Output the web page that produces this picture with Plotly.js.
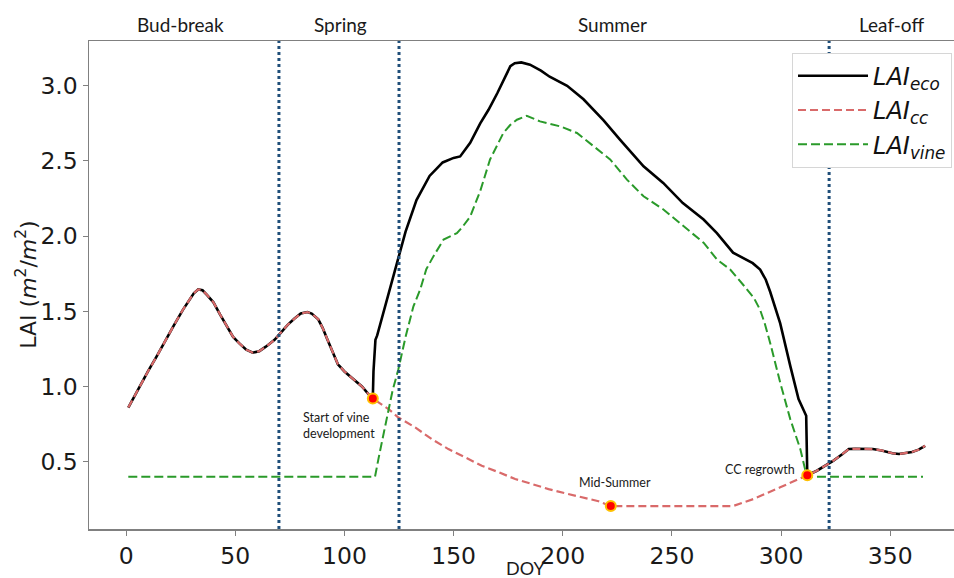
<!DOCTYPE html>
<html>
<head>
<meta charset="utf-8">
<script src="https://cdn.plot.ly/plotly-3.0.1.min.js"></script>
<style>
  html, body { margin: 0; padding: 0; background: #fff; }
  #chart { width: 954px; height: 578px; }
</style>
</head>
<body>
<div id="chart"></div>
<script>
// ---- Data ----
// Shared part of LAI_eco and LAI_cc before vine development
const earlyDoy = [1, 5, 10, 14, 18, 22, 26, 29, 31, 33, 35, 37, 40, 43, 46, 49, 52, 55, 58, 61, 64, 68, 71, 74, 77, 80, 83, 85, 88, 90, 92, 95, 97, 100, 104, 108, 111, 113];
const earlyLai = [0.86, 0.97, 1.10, 1.20, 1.31, 1.41, 1.51, 1.58, 1.62, 1.645, 1.64, 1.61, 1.56, 1.48, 1.40, 1.33, 1.285, 1.245, 1.225, 1.235, 1.265, 1.31, 1.36, 1.41, 1.45, 1.485, 1.495, 1.485, 1.447, 1.39, 1.32, 1.22, 1.148, 1.10, 1.05, 1.00, 0.95, 0.92];

// LAI_eco during vine season
const ecoMidDoy = [113.3, 114.2, 115, 119.5, 124.7, 128, 133, 139, 145, 150, 153, 157.6, 162.2, 166, 170, 176, 178, 181, 185, 190, 194, 202, 209.5, 218.7, 226.3, 237, 246, 255, 264.5, 270.6, 278, 283, 287, 290.4, 293, 295, 299.6, 304.2, 308, 311.5, 311.8];
const ecoMidLai = [1.10, 1.31, 1.34, 1.58, 1.87, 2.03, 2.24, 2.40, 2.49, 2.52, 2.53, 2.62, 2.75, 2.84, 2.95, 3.13, 3.15, 3.155, 3.14, 3.10, 3.06, 3.00, 2.91, 2.77, 2.64, 2.464, 2.354, 2.22, 2.11, 2.02, 1.89, 1.85, 1.82, 1.778, 1.71, 1.63, 1.42, 1.137, 0.916, 0.806, 0.50];

// LAI_cc during vine season
const ccMidDoy = [115.6, 120.2, 124.7, 132.4, 140, 147.6, 155.3, 162.9, 170.6, 178.2, 185.8, 193.5, 201.1, 208.7, 216.4, 222, 278, 287.4, 293, 299.6, 305, 310.3];
const ccMidLai = [0.894, 0.85, 0.794, 0.728, 0.65, 0.584, 0.529, 0.473, 0.43, 0.385, 0.352, 0.318, 0.29, 0.263, 0.237, 0.205, 0.205, 0.252, 0.29, 0.33, 0.365, 0.397];

// Shared part after cover-crop regrowth
const lateDoy = [312, 316.4, 320, 324, 328, 331, 334, 338, 342, 346, 348.5, 351, 354, 357, 360, 363, 366];
const lateLai = [0.41, 0.44, 0.47, 0.507, 0.55, 0.584, 0.586, 0.584, 0.584, 0.575, 0.566, 0.556, 0.551, 0.556, 0.565, 0.58, 0.606];

// LAI_vine
const vineDoy = [1, 114, 116, 119.4, 122, 124.7, 128, 131.6, 134.7, 137.5, 140.8, 145.4, 151.5, 154, 157.6, 162.2, 166.7, 172.8, 176, 179, 183.5, 189.6, 198.8, 206.5, 214.1, 221.7, 229.4, 237, 246.1, 255.3, 264.5, 270.6, 276.7, 283, 287.5, 290.4, 292.5, 295, 299.6, 304.2, 308.8, 311, 312, 365];
const vineLai = [0.40, 0.40, 0.55, 0.80, 0.97, 1.115, 1.33, 1.533, 1.645, 1.78, 1.867, 1.977, 2.02, 2.06, 2.13, 2.30, 2.51, 2.686, 2.74, 2.774, 2.80, 2.763, 2.73, 2.686, 2.60, 2.51, 2.376, 2.265, 2.177, 2.066, 1.956, 1.845, 1.778, 1.67, 1.59, 1.51, 1.42, 1.29, 1.026, 0.783, 0.584, 0.45, 0.40, 0.40];

// Key phenological points
const keyDoy = [113, 222, 312];
const keyLai = [0.92, 0.205, 0.41];
const keyLabels = ["Start of vine<br>development", "Mid-Summer", "CC regrowth"];

// Season boundaries and names
const seasonBounds = [70, 125, 322];
const seasonNames = ["Bud-break", "Spring", "Summer", "Leaf-off"];

const xTicks = [0, 50, 100, 150, 200, 250, 300, 350];
const yTicks = [0.5, 1.0, 1.5, 2.0, 2.5, 3.0];

// ---- Build series ----
const ecoDoy = earlyDoy.concat(ecoMidDoy, lateDoy);
const ecoLai = earlyLai.concat(ecoMidLai, lateLai);
const ccDoy = earlyDoy.concat(ccMidDoy, lateDoy);
const ccLai = earlyLai.concat(ccMidLai, lateLai);

const tickFont = { family: "DejaVu Sans", size: 23.5, color: "#1a1a1a" };
const noteFont = { family: "Lato", size: 12.5, color: "#1a1a1a" };

const traces = [
  { x: ecoDoy, y: ecoLai, type: "scatter", mode: "lines",
    name: "<i>LAI<sub>eco</sub></i>",
    line: { color: "#000000", width: 2.6 } },
  { x: ccDoy, y: ccLai, type: "scatter", mode: "lines",
    name: "<i>LAI<sub>cc</sub></i>",
    line: { color: "#d96a6a", width: 2.2, dash: "8px,4px" } },
  { x: vineDoy, y: vineLai, type: "scatter", mode: "lines",
    name: "<i>LAI<sub>vine</sub></i>",
    line: { color: "#2a9a2a", width: 2, dash: "9px,4px" } },
  { x: keyDoy, y: keyLai, type: "scatter", mode: "markers",
    showlegend: false, hoverinfo: "skip",
    marker: { color: "#ff0000", size: 10, line: { color: "#ffc000", width: 2 } } }
];

const shapes = seasonBounds.map(d => ({
  type: "line", xref: "x", yref: "paper", x0: d, x1: d, y0: 0, y1: 1,
  layer: "above",
  line: { color: "#1f4e79", width: 3, dash: "dot" }
}));

const seasonX = [25, 98, 223, 350.5];
const annotations = seasonNames.map((s, i) => ({
  x: seasonX[i], y: 1.0334, xref: "x", yref: "paper",
  text: s, showarrow: false, xanchor: "center", yanchor: "middle",
  font: { family: "Lato", size: 19, color: "#1a1a1a" }
}));

annotations.push(
  { x: keyDoy[0] - 33, y: 0.74, xref: "x", yref: "y", text: keyLabels[0],
    showarrow: false, xanchor: "left", yanchor: "middle", align: "left", font: noteFont },
  { x: keyDoy[1] + 2, y: 0.359, xref: "x", yref: "y", text: keyLabels[1],
    showarrow: false, xanchor: "center", yanchor: "middle", font: noteFont },
  { x: keyDoy[2] - 21.5, y: 0.445, xref: "x", yref: "y", text: keyLabels[2],
    showarrow: false, xanchor: "center", yanchor: "middle", font: noteFont },
  { x: 0.505, y: -0.079, xref: "paper", yref: "paper", text: "DOY",
    showarrow: false, xanchor: "center", yanchor: "middle",
    font: { family: "Lato", size: 18, color: "#1a1a1a" } },
  { x: -0.0728, y: 0.5006, xref: "paper", yref: "paper",
    text: "LAI (<i>m</i><sup>2</sup>/<i>m</i><sup>2</sup>)",
    textangle: -90, showarrow: false, xanchor: "center", yanchor: "middle",
    font: { family: "DejaVu Sans", size: 22, color: "#1a1a1a" } }
);

const layout = {
  width: 954, height: 578,
  margin: { l: 89, r: 0, t: 41, b: 49 },
  paper_bgcolor: "#ffffff", plot_bgcolor: "#ffffff",
  showlegend: true,
  legend: {
    x: 0.9977, y: 0.976, xanchor: "right", yanchor: "top",
    bgcolor: "#ffffff", bordercolor: "#d6d6d6", borderwidth: 1,
    font: { family: "DejaVu Sans", size: 24, color: "#111" },
    itemwidth: 70, tracegroupgap: 0
  },
  xaxis: {
    range: [-17, 379.2], tickvals: xTicks, ticktext: xTicks.map(String),
    showgrid: false, zeroline: false,
    showline: true, linecolor: "#808080", linewidth: 1.5, mirror: true,
    ticks: "outside", ticklen: 5, tickcolor: "#808080", tickwidth: 1,
    tickfont: tickFont
  },
  yaxis: {
    range: [0.0525, 3.2975], tickvals: yTicks, ticktext: yTicks.map(v => v.toFixed(1)),
    showgrid: false, zeroline: false,
    showline: true, linecolor: "#808080", linewidth: 1.5, mirror: false,
    ticks: "outside", ticklen: 5, tickcolor: "#808080", tickwidth: 1,
    tickfont: tickFont
  },
  shapes: shapes,
  annotations: annotations
};

Plotly.newPlot("chart", traces, layout, { staticPlot: true, displayModeBar: false });
</script>
</body>
</html>
